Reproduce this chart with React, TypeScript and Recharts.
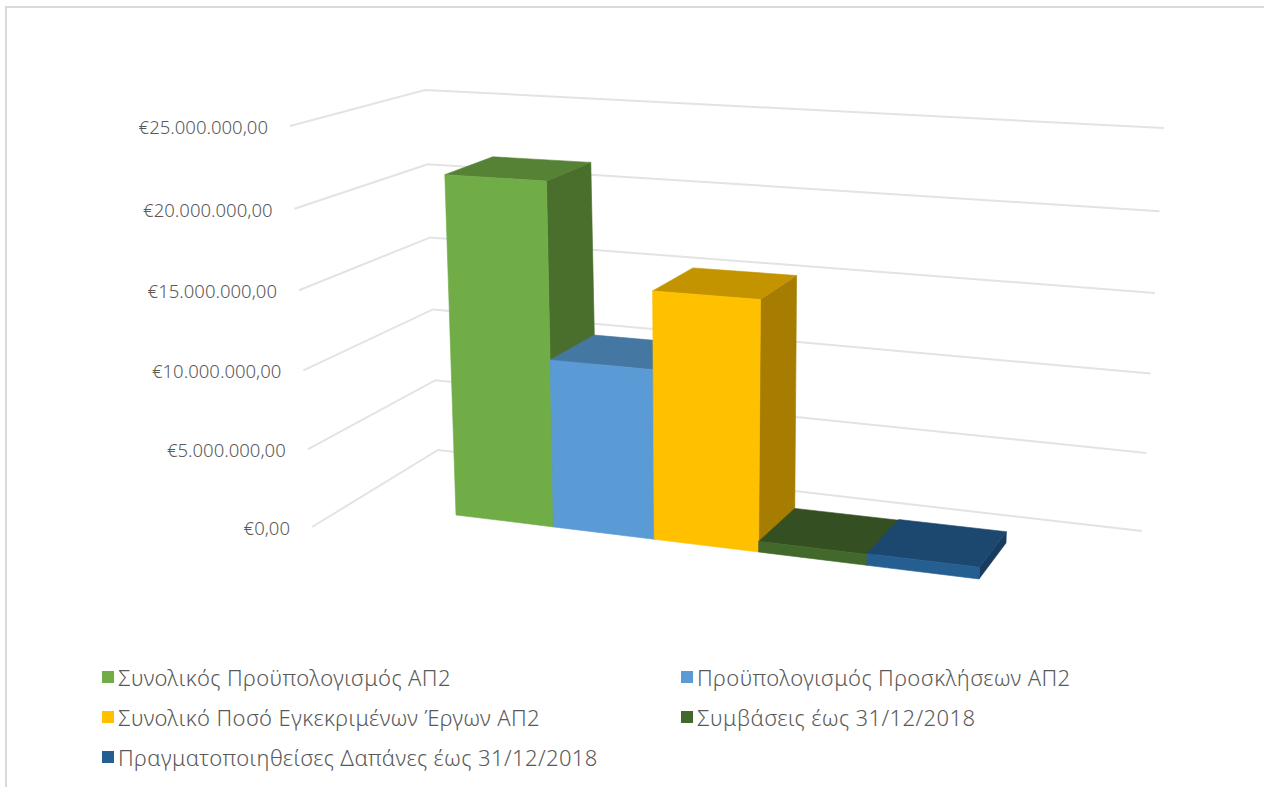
import React from 'react';
import { BarChart, Bar, XAxis, YAxis, CartesianGrid, Legend } from 'recharts';

const categories = ['ΑΠ2'];
const seriesNames = [
  'Συνολικός Προϋπολογισμός ΑΠ2',
  'Προϋπολογισμός Προσκλήσεων ΑΠ2',
  'Συνολικό Ποσό Εγκεκριμένων Έργων ΑΠ2',
  'Συμβάσεις έως 31/12/2018',
  'Πραγματοποιηθείσες Δαπάνες έως 31/12/2018',
];
const seriesValues = [21800000, 10950000, 15750000, 700000, 750000];
const yTicks = [0, 5000000, 10000000, 15000000, 20000000, 25000000];

// front, top, side shade of each series
const frontColors = ['#70AD47', '#5B9BD5', '#FFC000', '#43682B', '#255E91'];
const topColors = ['#568235', '#4577A3', '#C49300', '#344F21', '#1C486F'];
const sideColors = ['#4A6E2B', '#3B6590', '#A67D00', '#2C431C', '#173C5D'];

const WIDTH = 1264;
const HEIGHT = 787;
const PLOT = { left: 100, top: 100, width: 1000, height: 400 };
const MAX = 25000000;
const Y_AXIS_WIDTH = 10;

type P = [number, number];

// unit square -> quad, corners are (0,0) (1,0) (1,1) (0,1) in (u, v)
const homography = (a: P, b: P, c: P, d: P) => {
  const dx1 = b[0] - c[0];
  const dx2 = d[0] - c[0];
  const sx = a[0] - b[0] + c[0] - d[0];
  const dy1 = b[1] - c[1];
  const dy2 = d[1] - c[1];
  const sy = a[1] - b[1] + c[1] - d[1];
  const den = dx1 * dy2 - dx2 * dy1;
  const g = (sx * dy2 - dx2 * sy) / den;
  const h = (dx1 * sy - sx * dy1) / den;
  return (u: number, v: number): P => {
    const w = g * u + h * v + 1;
    return [
      ((b[0] - a[0] + g * b[0]) * u + (d[0] - a[0] + h * d[0]) * v + a[0]) / w,
      ((b[1] - a[1] + g * b[1]) * u + (d[1] - a[1] + h * d[1]) * v + a[1]) / w,
    ];
  };
};

// the gridline steps shrink a little towards the floor
const warp = (v: number) => v / (v + (1 - v) * 1.04);

// planes of the fake 3D box
const frontPlane = homography([456, 515], [979, 579], [995, 149], [443, 120]);
const backPlane = homography([504, 485], [1006, 543], [1022, 129], [491, 104]);
const wallFront = (v: number): P => {
  const t = warp(v);
  return [312 + (290 - 312) * t, 527 + (126 - 527) * t];
};
const wallCorner = (v: number): P => {
  const t = warp(v);
  return [438 + (425 - 438) * t, 450 + (90 - 450) * t];
};
const wallRight = (v: number): P => {
  const t = warp(v);
  return [1142 + (1164 - 1142) * t, 531 + (128 - 531) * t];
};

const toU = (x: number) => (x - PLOT.left) / PLOT.width;
const toV = (y: number) => (PLOT.top + PLOT.height - y) / PLOT.height;
const pts = (list: P[]) => list.map((p) => `${p[0].toFixed(1)},${p[1].toFixed(1)}`).join(' ');

const Bar3D = (props: any) => {
  const { x, y, width, height, index } = props;
  const i = props.seriesIndex ?? index;
  const u0 = toU(x);
  const u1 = toU(x + width);
  const v0 = toV(y + height);
  const v1 = toV(y);
  const t0 = warp(v0);
  const t1 = warp(v1);
  const fbl = frontPlane(u0, t0);
  const fbr = frontPlane(u1, t0);
  const ftr = frontPlane(u1, t1);
  const ftl = frontPlane(u0, t1);
  const bbr = backPlane(u1, t0);
  const btr = backPlane(u1, t1);
  const btl = backPlane(u0, t1);
  return (
    <g strokeWidth={0.6} strokeLinejoin="round">
      <polygon points={pts([fbr, bbr, btr, ftr])} fill={sideColors[i]} stroke={sideColors[i]} />
      <polygon points={pts([ftl, ftr, btr, btl])} fill={topColors[i]} stroke={topColors[i]} />
      <polygon points={pts([fbl, fbr, ftr, ftl])} fill={frontColors[i]} stroke={frontColors[i]} />
    </g>
  );
};

const GridLine = (props: any) => {
  const v = toV(props.y1);
  return (
    <polyline
      key={props.index}
      points={pts([wallFront(v), wallCorner(v), wallRight(v)])}
      fill="none"
      stroke="#E3E3E3"
      strokeWidth={2}
    />
  );
};

const formatEuro = (value: number) =>
  '€' + value.toLocaleString('de-DE', { minimumFractionDigits: 2, maximumFractionDigits: 2 });

const YTick = (props: any) => {
  const v = toV(props.y);
  const p = wallFront(v);
  return (
    <text x={p[0] - 22} y={p[1] + 8} textAnchor="end" fontSize={18.5} fill="#595959" fontFamily="Noto Sans" fontWeight={300}>
      {formatEuro(props.payload.value)}
    </text>
  );
};

const legendSlots = [
  [102, 677],
  [681, 677],
  [102, 717],
  [681, 717],
  [102, 757],
];

const LegendBox = () => (
  <div style={{ position: 'relative', width: WIDTH, height: 10 }}>
    {seriesNames.map((name, i) => (
      <div key={name} style={{ position: 'absolute', left: legendSlots[i][0], top: legendSlots[i][1] - 15, height: 30, display: 'flex', alignItems: 'center', whiteSpace: 'nowrap' }}>
        <span style={{ width: 12, height: 12, background: frontColors[i], marginRight: 4 }} />
        <span style={{ fontFamily: 'Noto Sans', fontWeight: 300, fontSize: 22, letterSpacing: 0.4, color: '#595959' }}>{name}</span>
      </div>
    ))}
  </div>
);

const data = categories.map((name) => {
  const row: Record<string, string | number> = { name };
  seriesNames.forEach((s, i) => {
    row[s] = seriesValues[i];
  });
  return row;
});

export default function App() {
  return (
    <div style={{ position: 'absolute', left: 0, top: 0, width: WIDTH, height: HEIGHT, overflow: 'hidden', background: '#fff' }}>
      <div style={{ position: 'absolute', left: 5, top: 6, width: 1257, height: 781, borderTop: '2px solid #D9D9D9', borderLeft: '2px solid #D9D9D9', borderRight: '1px solid #E3E3E3' }} />
      <BarChart
        width={WIDTH}
        height={HEIGHT}
        data={data}
        barCategoryGap={0}
        barGap={0}
        margin={{ left: PLOT.left - Y_AXIS_WIDTH, top: PLOT.top, right: WIDTH - PLOT.left - PLOT.width, bottom: HEIGHT - PLOT.top - PLOT.height }}
        style={{ position: 'absolute', left: 0, top: 0 }}
      >
        <CartesianGrid vertical={false} horizontal={(p: any) => <GridLine {...p} />} />
        <XAxis dataKey="name" hide />
        <YAxis width={Y_AXIS_WIDTH} domain={[0, MAX]} ticks={yTicks} axisLine={false} tickLine={false} tick={(p: any) => <YTick {...p} />} interval={0} />
        <Legend
          layout="horizontal"
          verticalAlign="middle"
          align="center"
          content={() => <LegendBox />}
          wrapperStyle={{ left: 0, top: 0, width: WIDTH, pointerEvents: 'none' }}
        />
        {seriesNames.map((s, i) => (
          <Bar key={s} dataKey={s} isAnimationActive={false} shape={(p: any) => <Bar3D {...p} seriesIndex={i} />} />
        ))}
      </BarChart>
    </div>
  );
}
